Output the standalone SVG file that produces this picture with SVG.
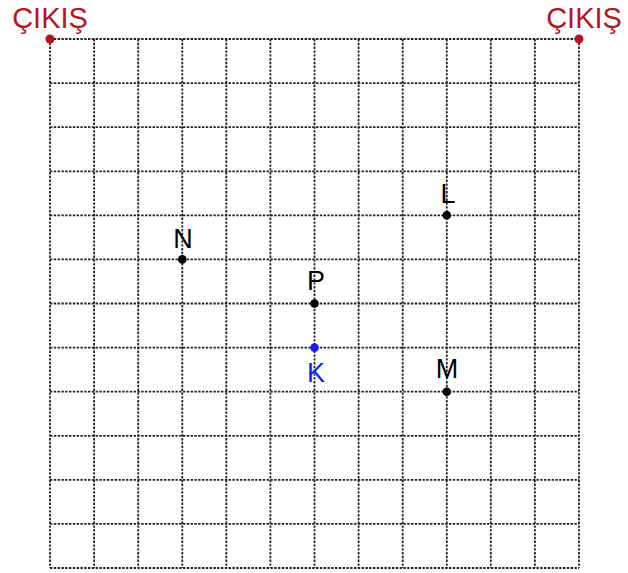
<svg xmlns="http://www.w3.org/2000/svg" width="628" height="573" viewBox="0 0 628 573">
<style>
.g{stroke:#222;stroke-width:1.8;stroke-dasharray:2.4 1.4;fill:none}
.lbl{font-family:"Liberation Sans",Arial,sans-serif;font-size:27px;text-anchor:middle}
.exit{fill:#b8141c;font-size:29px}
</style>
<rect width="628" height="573" fill="#fff"/>
<g id="grid" class="g">
<path d="M50 39V568M94.1 39V568M138.2 39V568M182.3 39V568M226.3 39V568M270.4 39V568M314.5 39V568M358.6 39V568M402.7 39V568M446.8 39V568M490.8 39V568M534.9 39V568M579 39V568"/>
<path d="M50 39H579M50 83.1H579M50 127.2H579M50 171.3H579M50 215.3H579M50 259.4H579M50 303.5H579M50 347.6H579M50 391.7H579M50 435.8H579M50 479.8H579M50 523.9H579M50 568H579"/>
</g>
<g id="exit-left"><circle cx="50" cy="39" r="4.5" class="exit"/><text x="50" y="28" class="lbl exit">ÇIKIŞ</text></g>
<g id="exit-right"><circle cx="579" cy="39" r="4.5" class="exit"/><text x="584" y="28" class="lbl exit">ÇIKIŞ</text></g>
<g id="L"><circle cx="446.8" cy="215.3" r="4.3"/><text x="448" y="203" class="lbl">L</text></g>
<g id="N"><circle cx="182.3" cy="259.4" r="4.3"/><text x="183" y="248" class="lbl">N</text></g>
<g id="P"><circle cx="314.5" cy="303.5" r="4.3"/><text x="316" y="290" class="lbl">P</text></g>
<g id="K"><circle cx="314.5" cy="347.6" r="4.3" fill="#1a1aff"/><text x="316" y="382" class="lbl" fill="#1a1aff">K</text></g>
<g id="M"><circle cx="446.8" cy="391.7" r="4.3"/><text x="447" y="378" class="lbl">M</text></g>
</svg>
